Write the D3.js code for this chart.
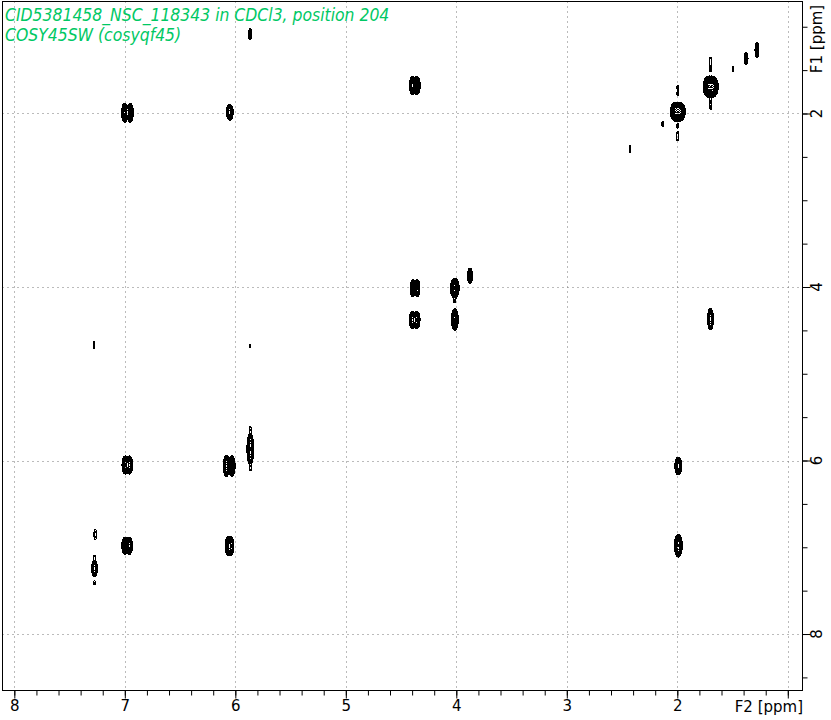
<!DOCTYPE html>
<html><head><meta charset="utf-8">
<script src="https://cdn.jsdelivr.net/npm/d3@7"></script>
<style>
html,body{margin:0;padding:0;background:#fff;}
svg{display:block;}
</style></head><body>
<svg id="chart" width="831" height="720"></svg>
<script>
// ---------- data ----------
const titleLines = ["CID5381458_NSC_118343 in CDCl3, position 204", "COSY45SW (cosyqf45)"];
const f2Domain = [8.107, 0.867];
const f1Domain = [0.709, 8.651];
const f2MajorTicks = [8, 7, 6, 5, 4, 3, 2, 1];
const f2TickLabels = ["8", "7", "6", "5", "4", "3", "2", ""];
const f1MajorTicks = [2, 4, 6, 8];
const f1TickLabels = ["2", "4", "6", "8"];
const f2AxisTitle = "F2 [ppm]";
const f1AxisTitle = "F1 [ppm]";

// cross / diagonal peaks: F2 ppm, F1 ppm, relative height, outer extent in F2 (ppm), in F1 (ppm), doublet split (ppm)
const peakF2 = [1.279, 1.378, 1.496, 1.698, 1.996, 2.132, 2.428, 5.867, 4.376, 6.976, 6.050, 3.876, 4.373, 4.014, 4.377, 4.013, 1.700, 7.279, 5.867, 5.864, 6.977, 6.055, 1.991, 7.267, 6.979, 6.052, 1.991, 7.274];
const peakF1 = [1.268, 1.364, 1.487, 1.691, 1.980, 2.121, 2.409, 1.084, 1.677, 1.991, 1.986, 3.873, 4.015, 4.012, 4.380, 4.375, 4.370, 4.669, 4.680, 5.867, 6.052, 6.063, 6.063, 6.853, 6.983, 6.986, 6.982, 7.245];
const peakHeight = [6, 5, 1.8, 60, 60, 1.8, 1.8, 3, 30, 30, 14, 8, 22, 22, 22, 22, 14, 1.8, 1.5, 22, 22, 22, 14, 1.6, 22, 22, 16, 14];
const peakExtF2 = [0.036, 0.036, 0.018, 0.140, 0.140, 0.018, 0.018, 0.027, 0.100, 0.109, 0.063, 0.045, 0.090, 0.081, 0.100, 0.063, 0.054, 0.018, 0.018, 0.063, 0.100, 0.109, 0.063, 0.027, 0.100, 0.081, 0.072, 0.054];
const peakExtF1 = [0.173, 0.138, 0.069, 0.250, 0.225, 0.069, 0.092, 0.138, 0.219, 0.230, 0.184, 0.184, 0.207, 0.230, 0.207, 0.254, 0.254, 0.081, 0.046, 0.369, 0.219, 0.254, 0.207, 0.115, 0.207, 0.230, 0.265, 0.196];
const peakSplit = [0, 0, 0, 0.04, 0.04, 0, 0, 0, 0.04, 0.05, 0, 0, 0.04, 0, 0.04, 0, 0, 0, 0, 0, 0.04, 0.05, 0, 0, 0.04, 0.03, 0, 0];

// weak t1-noise specks along F1 next to strong peaks
const noiseF2 = [1.698, 1.698, 1.698, 1.698, 1.698, 1.996, 1.996, 1.996, 1.996, 1.996, 5.864, 5.864, 7.274, 7.274, 4.014];
const noiseF1 = [1.372, 1.429, 1.498, 1.860, 1.930, 1.695, 1.775, 2.144, 2.236, 2.294, 5.632, 6.093, 7.112, 7.412, 4.161];

const contourLevels = [1, 1.35, 1.82, 2.46, 3.32, 4.48, 6.05, 8.17, 11, 14.9, 20, 27, 37, 50];

// ---------- layout ----------
const plotL = 2.5, plotR = 802.5, plotT = 1.5, plotB = 690.5;
const svg = d3.select("#chart");
const x = d3.scaleLinear().domain(f2Domain).range([plotL, plotR]);
const y = d3.scaleLinear().domain(f1Domain).range([plotT, plotB]);

svg.append("defs").append("clipPath").attr("id", "plotclip")
  .append("rect").attr("x", plotL).attr("y", plotT).attr("width", plotR - plotL).attr("height", plotB - plotT);

// grid (dotted)
const gridG = svg.append("g").attr("clip-path", "url(#plotclip)");
gridG.selectAll("line.vg").data(f2MajorTicks).join("line").attr("class", "vg")
  .attr("x1", d => Math.round(x(d)) + 0.5).attr("x2", d => Math.round(x(d)) + 0.5)
  .attr("y1", plotT).attr("y2", plotB)
  .attr("stroke", "#777").attr("stroke-width", 1).attr("stroke-dasharray", "1,4");
gridG.selectAll("line.hg").data(f1MajorTicks).join("line").attr("class", "hg")
  .attr("y1", d => Math.round(y(d)) + 0.5).attr("y2", d => Math.round(y(d)) + 0.5)
  .attr("x1", plotL).attr("x2", plotR)
  .attr("stroke", "#777").attr("stroke-width", 1).attr("stroke-dasharray", "1,4");

// ---------- contour field ----------
const nx = Math.round(plotR - plotL), ny = Math.round(plotB - plotT);
const field = new Float64Array(nx * ny);
function addPeak(f2, f1, h, extF2, extF1, split) {
  const r = Math.sqrt(2 * Math.log(Math.max(h, 1.05)));
  const pxW = Math.abs(x(f2 + extF2) - x(f2));
  const pxH = Math.abs(y(f1 + extF1) - y(f1));
  const pxSplit = Math.abs(x(f2 + split) - x(f2));
  const sx = Math.max((pxW - pxSplit) / 2, 0.7) / r;
  const sy = Math.max(pxH / 2, 0.7) / r;
  const comps = split > 0 ? [f2 - split / 2, f2 + split / 2] : [f2];
  const hh = split > 0 ? h * 0.8 : h;
  comps.forEach(c => {
    const cx = x(c) - plotL, cy = y(f1) - plotT;
    const i0 = Math.max(0, Math.floor(cx - 5 * sx)), i1 = Math.min(nx - 1, Math.ceil(cx + 5 * sx));
    const j0 = Math.max(0, Math.floor(cy - 5 * sy)), j1 = Math.min(ny - 1, Math.ceil(cy + 5 * sy));
    for (let j = j0; j <= j1; j++) {
      const dy = (j + 0.5 - cy) / sy;
      for (let i = i0; i <= i1; i++) {
        const dx = (i + 0.5 - cx) / sx;
        field[j * nx + i] += hh * Math.exp(-0.5 * (dx * dx + dy * dy));
      }
    }
  });
}
peakF2.forEach((d, k) => addPeak(d, peakF1[k], peakHeight[k], peakExtF2[k], peakExtF1[k], peakSplit[k]));
noiseF2.forEach((d, k) => addPeak(d, noiseF1[k], 1.5, 0.018, 0.05, 0));

const contours = d3.contours().size([nx, ny]).thresholds(contourLevels)(field);
svg.append("g").attr("clip-path", "url(#plotclip)")
  .append("g").attr("transform", `translate(${plotL},${plotT})`)
  .selectAll("path").data(contours).join("path")
  .attr("d", d3.geoPath())
  .attr("fill", "none").attr("stroke", "#000").attr("stroke-width", 1)
  .attr("shape-rendering", "crispEdges");

// frame
svg.append("rect").attr("x", plotL).attr("y", plotT).attr("width", plotR - plotL).attr("height", plotB - plotT)
  .attr("fill", "none").attr("stroke", "#000").attr("stroke-width", 1);

// ---------- axes ----------
const axisFont = "'DejaVu Sans', sans-serif";
const axisSize = "15px";
const f2Minor = d3.range(10, 81, 2).map(v => v / 10);
const f1Minor = d3.range(2, 18).map(v => v / 2);

const bx = svg.append("g").attr("transform", `translate(0,${plotB})`);
bx.call(d3.axisBottom(x).tickValues(f2Minor).tickSize(5).tickFormat(""));
const bx2 = svg.append("g").attr("transform", `translate(0,${plotB})`);
bx2.call(d3.axisBottom(x).tickValues(f2MajorTicks).tickSize(8).tickPadding(2).tickFormat((d, i) => f2TickLabels[i]));
svg.selectAll(".domain").remove();
bx.selectAll("line").attr("stroke", "#000");
bx2.selectAll("line").attr("stroke", "#000");
bx2.selectAll("text").attr("fill", "#000").style("font-family", axisFont).style("font-size", axisSize);

svg.append("text").attr("x", 803).attr("y", 712).attr("text-anchor", "end")
  .style("font-family", axisFont).style("font-size", axisSize)
  .text(f2AxisTitle);

const ry = svg.append("g").attr("transform", `translate(${plotR},0)`);
ry.call(d3.axisRight(y).tickValues(f1Minor).tickSize(5).tickFormat(""));
const ry2 = svg.append("g").attr("transform", `translate(${plotR},0)`);
ry2.call(d3.axisRight(y).tickValues(f1MajorTicks).tickSize(8).tickFormat(""));
ry.selectAll(".domain").remove();
ry2.selectAll(".domain").remove();
ry.selectAll("line").attr("stroke", "#000");
ry2.selectAll("line").attr("stroke", "#000");

svg.selectAll("text.f1lab").data(f1MajorTicks).join("text").attr("class", "f1lab")
  .attr("transform", d => `translate(822,${y(d)}) rotate(-90)`)
  .attr("text-anchor", "middle")
  .style("font-family", axisFont).style("font-size", axisSize)
  .text((d, i) => f1TickLabels[i]);

svg.append("text").attr("transform", `translate(822,39) rotate(-90)`).attr("text-anchor", "middle")
  .style("font-family", axisFont).style("font-size", axisSize)
  .text(f1AxisTitle);

// ---------- title ----------
svg.selectAll("text.title").data(titleLines).join("text").attr("class", "title")
  .attr("x", 5).attr("y", (d, i) => 21 + i * 19.5)
  .attr("fill", "#00c864")
  .style("font-family", "'DejaVu Sans Condensed', 'DejaVu Sans', sans-serif").style("font-stretch", "condensed")
  .style("font-style", "italic").style("font-size", "17.4px")
  .text(d => d);
</script>
</body></html>
